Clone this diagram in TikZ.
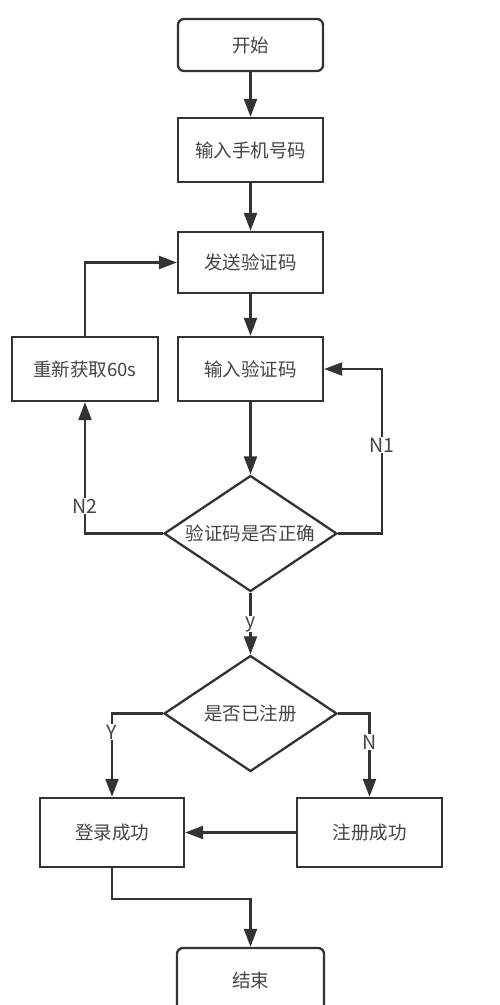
\documentclass[tikz,border=0pt]{standalone}
\usepackage{fontspec}
\setmainfont{Noto Sans CJK SC}
\usetikzlibrary{shapes.geometric,arrows.meta}
\definecolor{ln}{HTML}{333333}
\definecolor{tx}{HTML}{444444}
\begin{document}
\begin{tikzpicture}[x=1pt,y=-1pt,
  every node/.style={font=\fontsize{18.5pt}{22pt}\selectfont, text=tx},
  box/.style={draw=ln, line width=2.3pt, minimum width=145pt, inner sep=0pt, fill=white},
  term/.style={box, rounded corners=6pt},
  dec/.style={draw=ln, line width=2.3pt, diamond, inner sep=0pt, minimum width=173pt, minimum height=116pt},
  arr/.style={draw=ln, line width=2.3pt, -{Triangle[length=18pt,width=13pt]}},
  lab/.style={fill=white, inner sep=1pt, font=\fontsize{19.5pt}{22pt}\selectfont}
]
\useasboundingbox (0,0) rectangle (500,1005);
\node[term, minimum height=52pt] (start) at (250.5,45) {开始};
\node[box, minimum height=64pt] (phone) at (250.5,150) {输入手机号码};
\node[box, minimum height=61pt] (send) at (250.5,262.5) {发送验证码};
\node[box, minimum height=64pt] (input) at (250.5,369) {输入验证码};
\node[box, minimum height=64pt, minimum width=146pt] (retry) at (85,369) {重新获取60s};
\node[dec, label=center:验证码是否正确] (d1) at (250.5,533.5) {};
\node[dec, label=center:是否已注册] (d2) at (250.5,713.5) {};
\node[box, minimum height=69pt, minimum width=144pt] (login) at (112,832.5) {登录成功};
\node[box, minimum height=69pt] (reg) at (369.5,832.5) {注册成功};
\node[term, minimum height=64pt, minimum width=147pt] (end) at (250.5,980) {结束};
\coordinate (c1) at (382,369);
\coordinate (c2) at (250.5,899);

\draw[arr] (start) -- (phone);
\draw[arr] (phone) -- (send);
\draw[arr] (send) -- (input);
\draw[arr] (input) -- (d1.north);
\draw[arr] (d1.east) -| (c1) -- (input.east);
\node[lab] (n1) at (382,445) {N1};
\draw[arr] (d1.west) -| (retry.south);
\node[lab] (n2) at (85,506) {N2};
\draw[arr] (retry.north) |- (send.west);
\draw[arr] (d1.south) -- (d2.north);
\node[lab, inner sep=0pt] (ly) at (250.5,624) {y};
\draw[arr] (d2.west) -| (login.north);
\node[lab] (ly2) at (112,732) {Y};
\draw[arr] (d2.east) -| (reg.north);
\node[lab] (ln2) at (369.5,742) {N};
\draw[arr] (reg.west) -- (login.east);
\draw[arr] (login.south) |- (c2) -- (end.north);
\end{tikzpicture}
\end{document}
